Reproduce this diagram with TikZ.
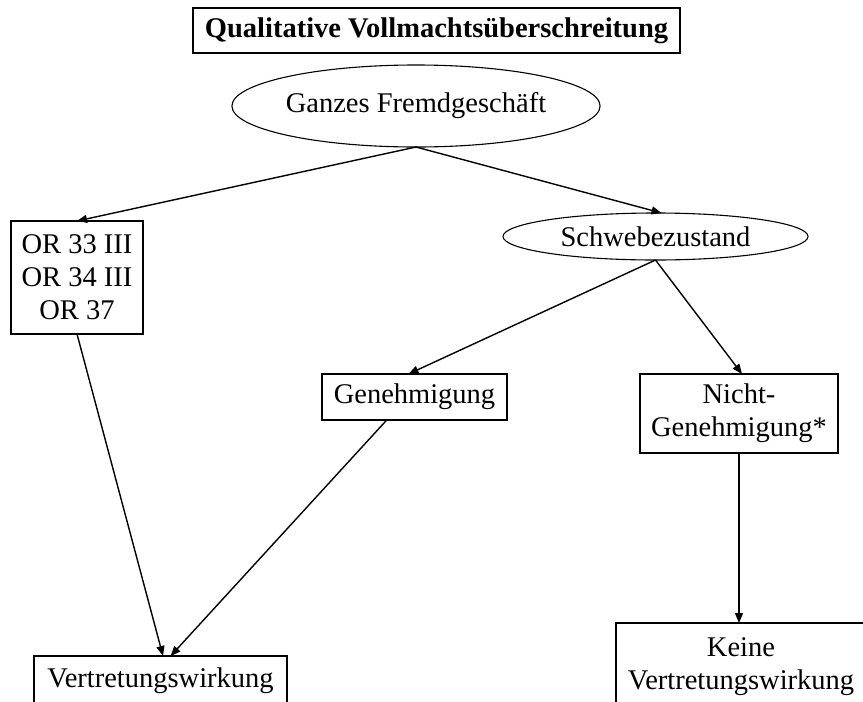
\documentclass[tikz,border=0pt]{standalone}
\usepackage{fontspec}
\setmainfont{Liberation Serif}
\usetikzlibrary{shapes.geometric,arrows.meta,calc}
\begin{document}
\begin{tikzpicture}[x=1pt,y=-1pt,
  every node/.style={font=\fontsize{28.5}{33}\selectfont, inner sep=0pt, outer sep=0pt, align=center},
  box/.style={draw, line width=1.4pt, rectangle},
  oval/.style={draw, line width=1.1pt, ellipse},
  conn/.style={line width=1.4pt, -{Triangle[length=10pt,width=8pt]}}]
\useasboundingbox (0,0) rectangle (863,702);
\clip (0,0) rectangle (863,702);
\fill[white] (0,0) rectangle (863,702);
\node[box, minimum width=487pt, minimum height=45pt, font=\fontsize{28.5}{33}\selectfont\bfseries] (title) at (436.5,30.5) {Qualitative Vollmachtsüberschreitung};
\node[oval, minimum width=352pt, minimum height=82pt] (ganzes) at (416,106) {Ganzes Fremdgeschäft};
\node[oval, minimum width=305pt, minimum height=47pt] (schwebe) at (655.5,236.5) {Schwebezustand};
\node[box, minimum width=132pt, minimum height=113pt] (or) at (77,277.5) {OR 33 III\\OR 34 III\\OR 37};
\node[box, minimum width=185pt, minimum height=46pt] (gen) at (414.5,397) {Genehmigung};
\node[box, minimum width=198pt, minimum height=79pt] (nicht) at (739,413.5) {Nicht-\\Genehmigung*};
\node[box, minimum width=253pt, minimum height=50pt] (vert) at (160.5,681) {Vertretungswirkung};
\node[box, minimum width=250pt, minimum height=88pt] (keine) at (741,667) {Keine\\Vertretungswirkung};
\draw[conn] (ganzes.south) -- (or.north);
\draw[conn] (ganzes.south) -- ($(schwebe.north)+(6,0)$);
\draw[conn] (schwebe.south) -- ($(gen.north)+(-6,0)$);
\draw[conn] (schwebe.south) -- ($(nicht.north)+(3,0)$);
\draw[conn] (or.south) -- ($(vert.north west)!0.51!(vert.north east)$);
\draw[conn] ($(gen.south west)!0.35!(gen.south east)$) -- ($(vert.north west)!0.54!(vert.north east)$);
\draw[conn] (nicht.south) -- (nicht.south |- keine.north);
\end{tikzpicture}
\end{document}
